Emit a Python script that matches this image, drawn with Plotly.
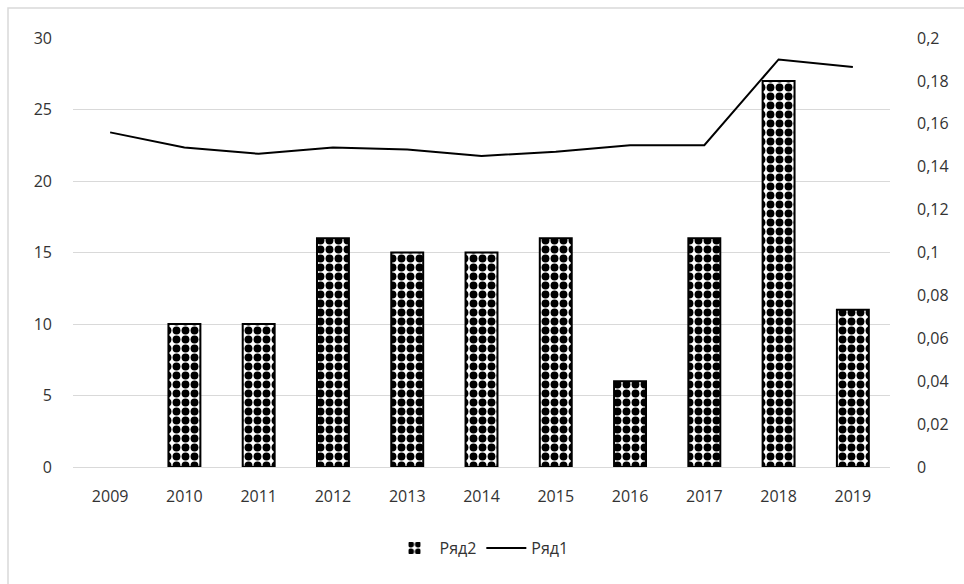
import plotly.graph_objects as go

# Years on the category axis
years = ["2009", "2010", "2011", "2012", "2013", "2014", "2015", "2016", "2017", "2018", "2019"]

# Ряд2: counts shown as bars (left axis)
series2 = [0, 10, 10, 16, 15, 15, 16, 6, 16, 27, 11]

# Ряд1: ratio shown as a line (right axis)
series1 = [0.156, 0.149, 0.146, 0.149, 0.148, 0.145, 0.147, 0.150, 0.150, 0.190, 0.1865]

# Axis ticks
left_ticks = [0, 5, 10, 15, 20, 25, 30]
right_ticks = [0, 0.02, 0.04, 0.06, 0.08, 0.10, 0.12, 0.14, 0.16, 0.18, 0.20]
right_labels = ["0", "0,02", "0,04", "0,06", "0,08", "0,1", "0,12", "0,14", "0,16", "0,18", "0,2"]

FONT = "Open Sans"
TEXT = "#333333"
GRID = "#d9d9d9"

# no outline for empty bars
outline = [0 if v == 0 else 2 for v in series2]

fig = go.Figure()

fig.add_trace(go.Bar(
    x=years, y=series2, name="Ряд2",
    marker=dict(
        color="white",
        line=dict(color="black", width=outline),
        pattern=dict(shape=".", fgcolor="black", bgcolor="white", fgopacity=1,
                     size=9, solidity=0.6, fillmode="overlay"),
    ),
    yaxis="y",
))

fig.add_trace(go.Scatter(
    x=years, y=series1, name="Ряд1", mode="lines",
    line=dict(color="black", width=2),
    yaxis="y2",
))

fig.update_layout(
    width=964, height=584,
    margin=dict(l=73, r=74, t=38, b=117),
    paper_bgcolor="white", plot_bgcolor="white",
    font=dict(family=FONT, size=16, color=TEXT),
    bargap=0.57,
    showlegend=True,
    legend=dict(orientation="h", x=0.5, xanchor="center", y=-0.189, yanchor="middle",
                font=dict(family=FONT, size=16, color=TEXT), itemwidth=40),
    xaxis=dict(type="category", showgrid=False, showline=True, linecolor=GRID,
               linewidth=1, ticks="", ticklabelstandoff=15),
    yaxis=dict(range=[0, 30], tickvals=left_ticks, showgrid=True, gridcolor=GRID,
               gridwidth=1, zeroline=False, showline=False, ticks="",
               ticklabelstandoff=20),
    yaxis2=dict(range=[0, 0.2], overlaying="y", side="right", tickvals=right_ticks,
                ticktext=right_labels, showgrid=False, zeroline=False, showline=False,
                ticks="", ticklabelstandoff=26),
    shapes=[dict(type="rect", xref="paper", yref="paper",
                 x0=(8 - 73) / 817, x1=1 + (990 - 890) / 817,
                 y0=(467 - 620) / 429, y1=1 + (38 - 8) / 429,
                 line=dict(color=GRID, width=1.5), fillcolor="rgba(0,0,0,0)",
                 layer="below")],
)

fig.write_html("out.html")
